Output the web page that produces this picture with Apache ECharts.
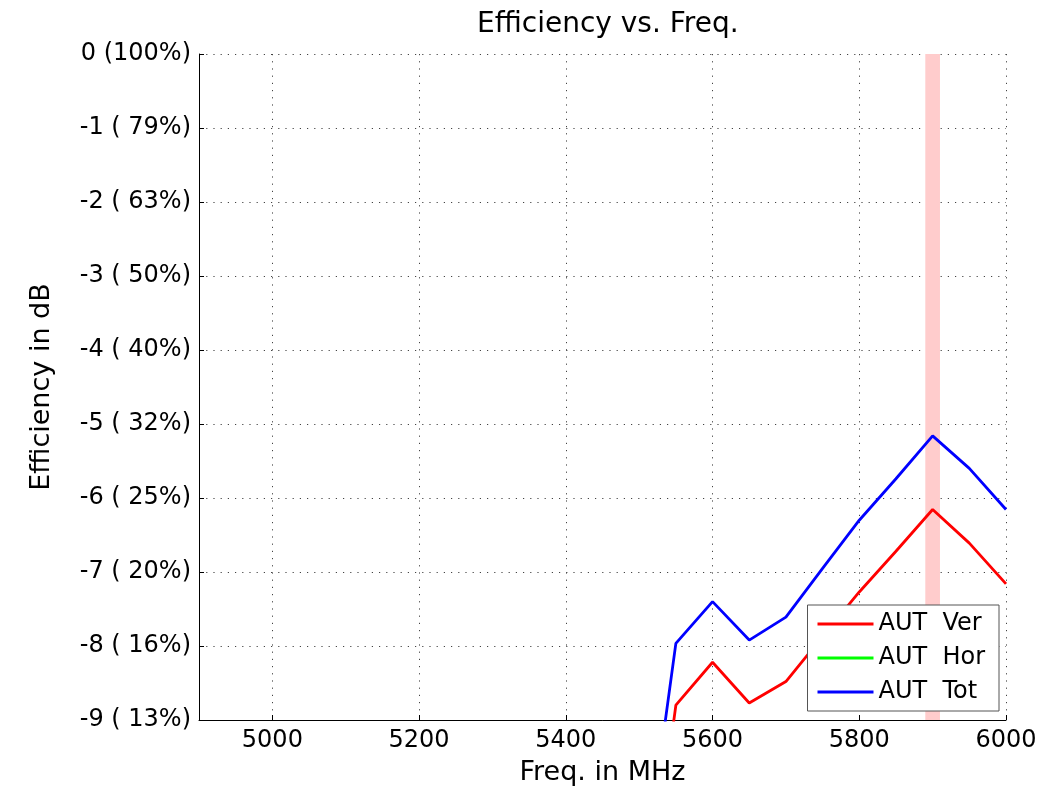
<!DOCTYPE html>
<html><head><meta charset="utf-8">
<script src="https://cdn.jsdelivr.net/npm/echarts@6/dist/echarts.min.js"></script>
<style>html,body{margin:0;padding:0;background:#fff}#c{width:1059px;height:792px}</style>
</head><body><div id="c"></div>
<script>
const freqs = [5500, 5550, 5600, 5650, 5700, 5750, 5800, 5850, 5900, 5950, 6000];
const verValues = [-12.5, -8.80, -8.22, -8.77, -8.48, -7.87, -7.27, -6.72, -6.155, -6.61, -7.16];
const horValues = [];
const totValues = [-11.6, -7.965, -7.40, -7.92, -7.61, -6.95, -6.30, -5.74, -5.16, -5.60, -6.155];
const xTicks = [5000, 5200, 5400, 5600, 5800, 6000];
const yTickLabels = ['-9 ( 13%)', '-8 ( 16%)', '-7 ( 20%)', '-6 ( 25%)', '-5 ( 32%)', '-4 ( 40%)', '-3 ( 50%)', '-2 ( 63%)', '-1 ( 79%)', '0 (100%)'];
const bandRange = [5890, 5910];
const seriesNames = ['AUT  Ver', 'AUT  Hor', 'AUT  Tot'];

const FONT = 'DejaVu Sans';
const pairs = vals => vals.map((v, i) => [freqs[i], v]);
const gridLine = { show: true, lineStyle: { color: '#444', width: 1, type: [1.2, 6] } };

const chart = echarts.init(document.getElementById('c'), null, { renderer: 'canvas' });
chart.setOption({
  backgroundColor: '#fff',
  animation: false,
  title: {
    text: 'Efficiency vs. Freq.',
    left: 472, top: 6,
    textStyle: { fontFamily: FONT, fontSize: 28, fontWeight: 'normal', color: '#000' }
  },
  grid: { left: 199, right: 53, top: 54, bottom: 72, containLabel: false },
  legend: {
    data: seriesNames,
    orient: 'vertical',
    right: 60, top: 605,
    backgroundColor: '#fff',
    borderColor: '#555', borderWidth: 1,
    padding: [7, 14, 7, 10],
    itemWidth: 56, itemHeight: 3, itemGap: 10,
    icon: 'rect',
    textStyle: { fontFamily: FONT, fontSize: 24, lineHeight: 24, color: '#000' }
  },
  xAxis: {
    type: 'value', min: 4900, max: 6000,
    name: 'Freq. in MHz', nameLocation: 'middle', nameGap: 39,
    nameTextStyle: { fontFamily: FONT, fontSize: 27, color: '#000' },
    axisLine: { show: true, onZero: false, lineStyle: { color: '#000', width: 1 } },
    axisTick: { show: true, inside: true, length: 5, customValues: xTicks, lineStyle: { color: '#000' } },
    axisLabel: { customValues: xTicks, fontFamily: FONT, fontSize: 24, color: '#000', margin: 9,
      formatter: v => String(v) },
    splitLine: gridLine
  },
  yAxis: {
    type: 'value', min: -9, max: 0, interval: 1,
    name: 'Efficiency in dB', nameLocation: 'middle', nameGap: 144,
    nameTextStyle: { fontFamily: FONT, fontSize: 27, color: '#000' },
    axisLine: { show: true, onZero: false, lineStyle: { color: '#000', width: 1 } },
    axisTick: { show: true, inside: true, length: 5, lineStyle: { color: '#000' } },
    axisLabel: {
      fontFamily: FONT, fontSize: 24, color: '#000', margin: 8,
      formatter: v => yTickLabels[Math.round(v) + 9]
    },
    splitLine: gridLine
  },
  series: [
    {
      name: seriesNames[0], type: 'line', data: pairs(verValues),
      symbol: 'none', color: '#ff0000', lineStyle: { width: 2.8, color: '#ff0000' },
      markArea: {
        silent: true, z: 1,
        itemStyle: { color: '#ffcccc' },
        data: [[{ xAxis: bandRange[0] }, { xAxis: bandRange[1] }]]
      }
    },
    {
      name: seriesNames[1], type: 'line', data: pairs(horValues),
      symbol: 'none', color: '#00ff00', lineStyle: { width: 2.8, color: '#00ff00' }
    },
    {
      name: seriesNames[2], type: 'line', data: pairs(totValues),
      symbol: 'none', color: '#0000ff', lineStyle: { width: 2.8, color: '#0000ff' }
    }
  ]
});
</script>
</body></html>
